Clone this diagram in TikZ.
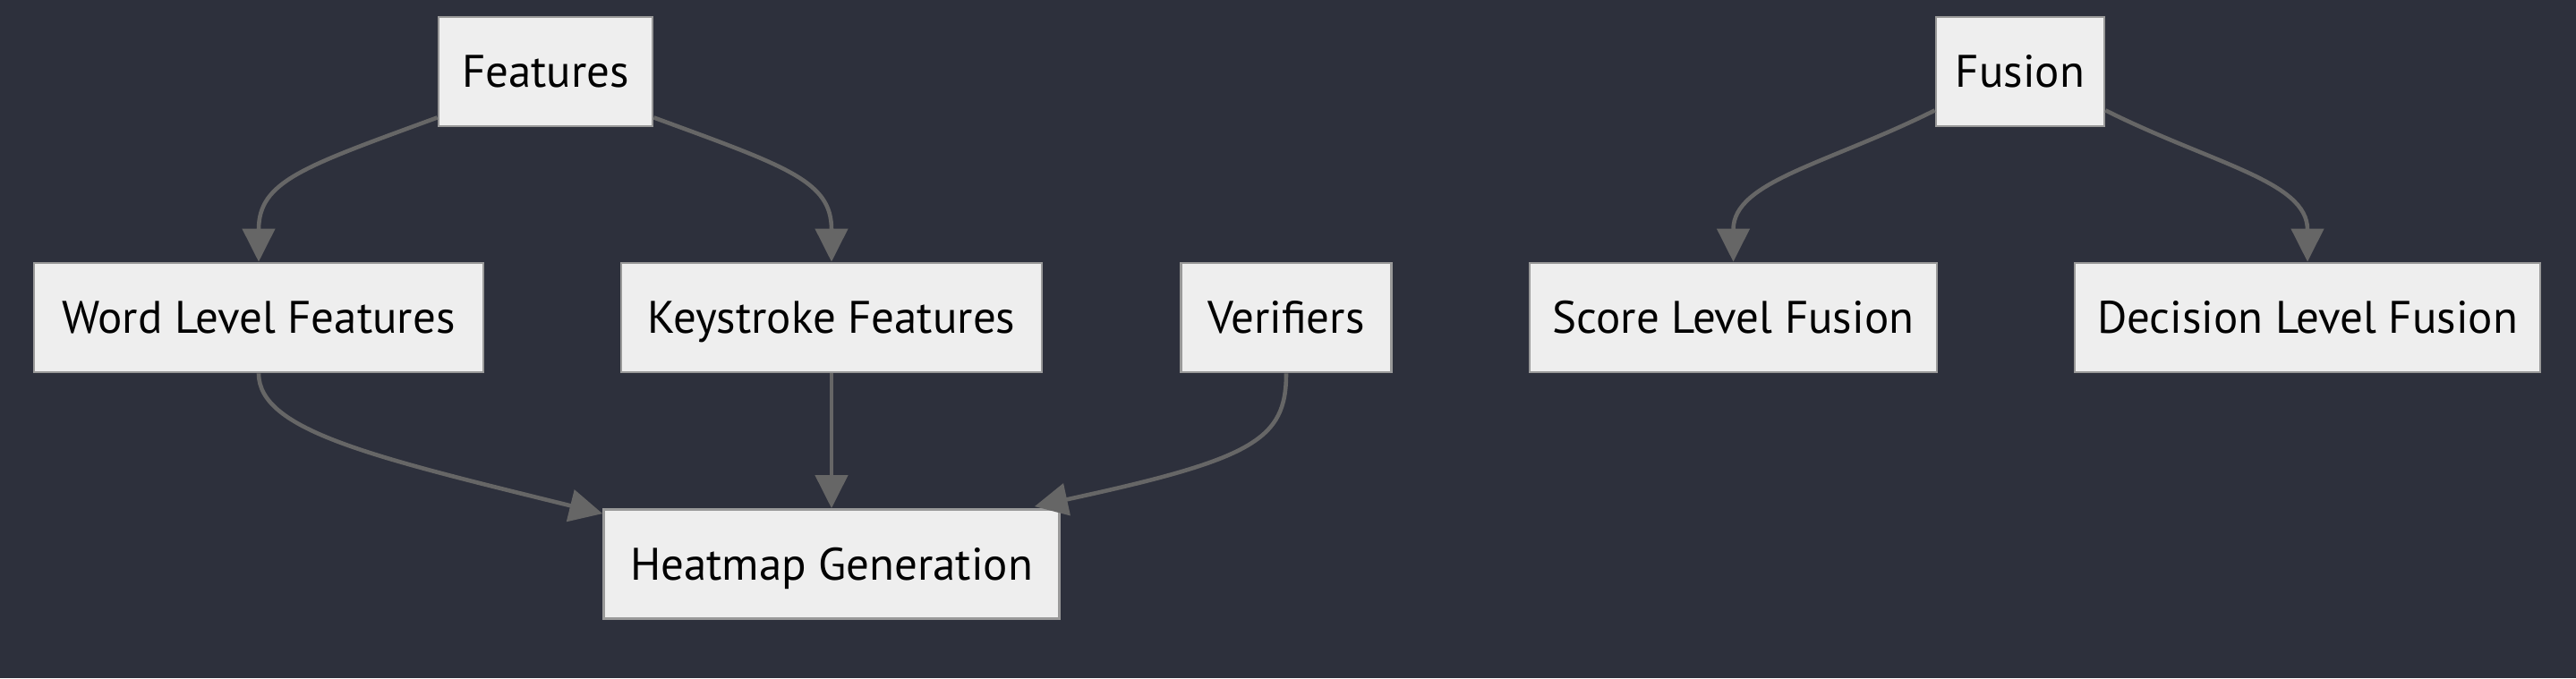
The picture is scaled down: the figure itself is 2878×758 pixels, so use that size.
\documentclass[tikz,border=0pt]{standalone}
\usepackage{fontspec}
\setmainfont{PT Sans}
\usetikzlibrary{arrows.meta,calc}
\definecolor{bgcol}{HTML}{2D303C}
\definecolor{boxfill}{HTML}{EEEEEE}
\definecolor{boxline}{HTML}{999999}
\definecolor{edgecol}{HTML}{666666}
\begin{document}
\begin{tikzpicture}[x=0.02cm,y=-0.02cm,
  box/.style={draw=boxline,fill=boxfill,line width=1.6pt,minimum height=2.44cm,
    inner sep=0pt,text height=20pt,text depth=0pt,font=\fontsize{29}{34}\selectfont,text=black},
  edge/.style={draw=edgecol,line width=2.6pt,-{Triangle[length=0.74cm,width=0.72cm]}}]
\fill[bgcol] (0,0) rectangle (2878,758);
\useasboundingbox (0,0) rectangle (2878,758);
\node[box,minimum width=4.78cm] (feat) at (609.5,80) {Features};
\node[box,minimum width=10.04cm] (word) at (289,355) {Word Level Features};
\node[box,minimum width=9.4cm] (key) at (929,355) {Keystroke Features};
\node[box,minimum width=4.7cm] (ver) at (1437,355) {Verifiers};
\node[box,minimum width=10.18cm] (heat) at (929,630.5) {Heatmap Generation};
\node[box,minimum width=3.76cm] (fus) at (2257,80) {Fusion};
\node[box,minimum width=9.1cm] (score) at (1936.5,355) {Score Level Fusion};
\node[box,minimum width=10.4cm] (dec) at (2578,355) {Decision Level Fusion};
\draw[edge] ($(feat.south west)+(0,-11)$) .. controls +(-150,55) and +(0,-90) .. (word.north);
\draw[edge] ($(feat.south east)+(0,-11)$) .. controls +(150,55) and +(0,-90) .. (key.north);
\draw[edge] (word.south) .. controls +(0,64) and ($(heat.north west)+(-255,-57)$) .. ($(heat.north west)+(0,6)$);
\draw[edge] (key.south) -- (heat.north);
\draw[edge] (ver.south) .. controls +(0,74) and ($(heat.north east)+(216,-55)$) .. ($(heat.north east)+(-29,-2)$);
\draw[edge] ($(fus.south west)+(0,-19)$) .. controls +(-120,60) and +(0,-90) .. (score.north);
\draw[edge] ($(fus.south east)+(0,-19)$) .. controls +(120,60) and +(0,-90) .. (dec.north);
\end{tikzpicture}
\end{document}
